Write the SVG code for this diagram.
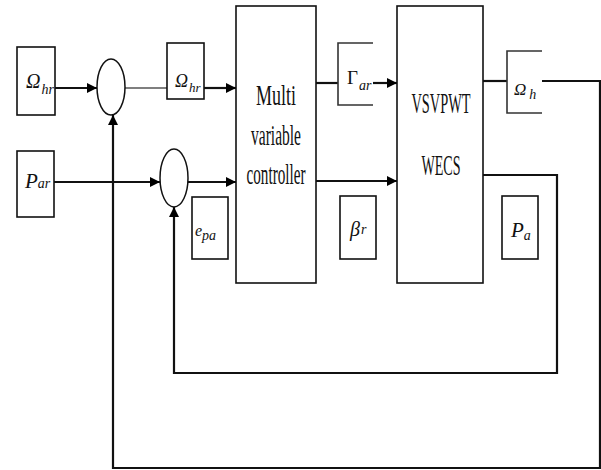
<svg xmlns="http://www.w3.org/2000/svg" width="601" height="470" viewBox="0 0 601 470">
<defs>
<marker id="ah" markerWidth="10" markerHeight="10" refX="10" refY="5" orient="auto" markerUnits="userSpaceOnUse">
<path d="M0,0 L10,5 L0,10 Z" fill="#000"/>
</marker>
<style>
.box{fill:#fff;stroke:#111;stroke-width:1.6}
.brk{fill:none;stroke:#333;stroke-width:1.6}
.sum{fill:#fff;stroke:#111;stroke-width:1.5}
.ln{fill:none;stroke:#111;stroke-width:2.2}
.thin{fill:none;stroke:#555;stroke-width:1.6}
.big{font-family:"Liberation Serif",serif;font-size:29px;fill:#111;text-anchor:middle}
.lab{font-family:"Liberation Serif",serif;font-style:italic;fill:#111}
</style>
</defs>
<rect width="601" height="470" fill="#fff"/>
<g id="connectors">
<line class="ln" x1="55" y1="88" x2="97" y2="88" marker-end="url(#ah)"/>
<line class="thin" x1="125" y1="88" x2="167" y2="88"/>
<line class="ln" x1="204" y1="88" x2="236" y2="88" marker-end="url(#ah)"/>
<line class="ln" x1="316" y1="83" x2="338" y2="83"/>
<line class="ln" x1="373" y1="83" x2="397" y2="83" marker-end="url(#ah)"/>
<line class="ln" x1="54" y1="182" x2="160" y2="182" marker-end="url(#ah)"/>
<line class="ln" x1="188" y1="182" x2="236" y2="182" marker-end="url(#ah)"/>
<line class="ln" x1="316" y1="181" x2="397" y2="181" marker-end="url(#ah)"/>
<line class="ln" x1="483" y1="81" x2="507" y2="81"/>
<polyline class="ln" points="542,81 600,81 600,468 113,468 113,115" marker-end="url(#ah)"/>
<polyline class="ln" points="483,175 557,175 557,373 174,373 174,207" marker-end="url(#ah)"/>
</g>
<g id="ref-omega">
<rect class="box" x="17" y="47" width="38" height="68"/>
<text class="lab" x="26" y="88" font-size="20">Ω<tspan font-size="14" dx="1" dy="6">hr</tspan></text>
</g>
<g id="ref-power">
<rect class="box" x="17" y="151" width="37" height="66"/>
<text class="lab" x="25" y="188" font-size="21">P<tspan font-size="14">ar</tspan></text>
</g>
<g id="sum1">
<ellipse class="sum" cx="111" cy="87" rx="14" ry="28"/>
</g>
<g id="sum2">
<ellipse class="sum" cx="174" cy="178" rx="14" ry="29"/>
</g>
<g id="label-omega-hr">
<rect class="box" x="167" y="43" width="37" height="56"/>
<text class="lab" x="175" y="87" font-size="18">Ω<tspan font-size="13" dx="1" dy="5">hr</tspan></text>
</g>
<g id="label-epa">
<rect class="box" x="192" y="197" width="36" height="62"/>
<text class="lab" x="195" y="236" font-size="16">e<tspan font-size="14" dy="4">pa</tspan></text>
</g>
<g id="controller">
<rect class="box" x="236" y="6" width="80" height="277"/>
<text class="big" x="276" y="105" textLength="40" lengthAdjust="spacingAndGlyphs">Multi</text>
<text class="big" x="276" y="145" textLength="50" lengthAdjust="spacingAndGlyphs">variable</text>
<text class="big" x="276" y="184" textLength="59" lengthAdjust="spacingAndGlyphs">controller</text>
</g>
<g id="label-gamma">
<polyline class="brk" points="373,43 338,43 338,105 373,105"/>
<text class="lab" x="347" y="84" font-size="19"><tspan font-style="normal">Γ</tspan><tspan font-size="14" dx="1" dy="6">ar</tspan></text>
</g>
<g id="label-beta">
<rect class="box" x="340" y="196" width="36" height="63"/>
<text class="lab" x="350" y="236" font-size="20">β<tspan font-size="14" dx="1" dy="-2">r</tspan></text>
</g>
<g id="wecs">
<rect class="box" x="397" y="6" width="86" height="277"/>
<text class="big" x="441" y="113" font-size="27" textLength="59" lengthAdjust="spacingAndGlyphs">VSVPWT</text>
<text class="big" x="441" y="175" font-size="27" textLength="39" lengthAdjust="spacingAndGlyphs">WECS</text>
</g>
<g id="label-omega-h">
<polyline class="brk" points="542,51 507,51 507,113 542,113"/>
<text class="lab" x="514" y="95" font-size="17">Ω<tspan font-size="14" dx="3" dy="4">h</tspan></text>
</g>
<g id="label-pa">
<rect class="box" x="502" y="196" width="36" height="63"/>
<text class="lab" x="511" y="237" font-size="21">P<tspan font-size="14" dy="3">a</tspan></text>
</g>
</svg>
